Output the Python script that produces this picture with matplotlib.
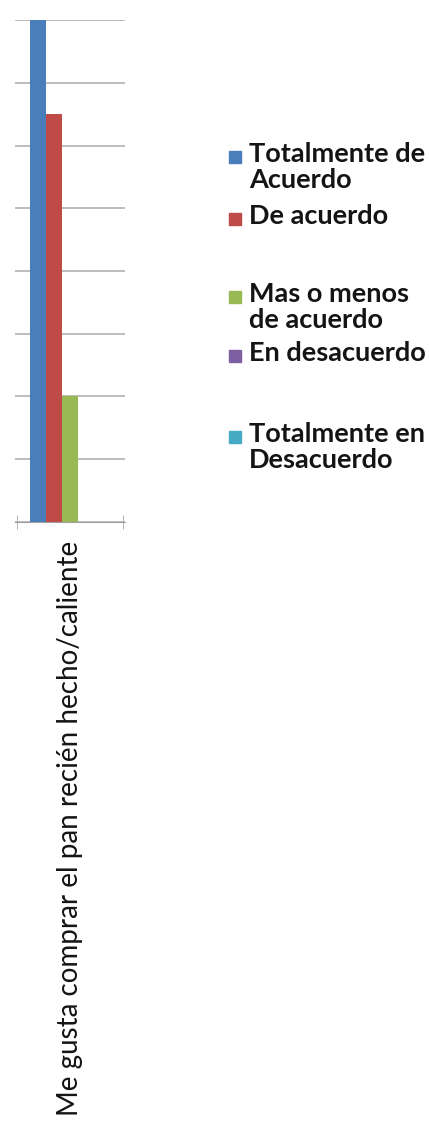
import matplotlib
matplotlib.use('Agg')
import matplotlib.pyplot as plt
import numpy as np
from matplotlib.patches import Rectangle

# respuestas para la unica pregunta
pregunta = 'Me gusta comprar el pan recién hecho/caliente'
opciones = ['Totalmente de\nAcuerdo', 'De acuerdo', 'Mas o menos\nde acuerdo',
            'En desacuerdo', 'Totalmente en\nDesacuerdo']
valores = [16, 13, 4, 0, 0]
colores = ['#4a7ebb', '#be4b48', '#98b954', '#7d60a0', '#46aac5']

fig = plt.figure(figsize=(4.29, 11.22), dpi=100)
ax = fig.add_axes([0.035, 0.535, 0.256, 0.447])

ancho = 0.145
x0 = -ancho * len(valores) / 2 + ancho / 2
for i in range(len(valores)):
    ax.bar(x0 + i * ancho, valores[i], width=ancho, color=colores[i], zorder=3)

ax.set_xlim(-0.5, 0.5)
ax.set_ylim(0, 16)
ax.set_yticks(np.arange(0, 17, 2))
ax.yaxis.grid(True, color='#b8b8b8', linewidth=1.3, zorder=0)
ax.tick_params(axis='y', length=0, labelleft=False)

ax.set_xticks([0])
ax.set_xticklabels([pregunta], rotation=90, fontsize=20,
                   family='Lato', va='top', color='#141414')
ax.tick_params(axis='x', which='major', length=0, pad=14)
ax.set_xticks([-0.48, 0.48], minor=True)
ax.tick_params(axis='x', which='minor', length=10, direction='inout',
               color='#a8a8a8')

for s in ['top', 'right', 'left']:
    ax.spines[s].set_visible(False)
ax.spines['bottom'].set_color('#a0a0a0')

# leyenda a mano, con el espaciado irregular de Excel
pos_y = [157, 219, 297, 356, 437]
W, H = 429.0, 1122.0
for i in range(len(opciones)):
    y = pos_y[i]
    fig.patches.append(Rectangle((229 / W, 1 - (y + 6) / H), 12 / W, 12 / H,
                                 transform=fig.transFigure, color=colores[i]))
    fig.text(249 / W, 1 - (y - 15) / H, opciones[i], family='Lato',
             weight='bold', fontsize=19.5, va='top', ha='left',
             linespacing=1.12, color='#141414')

plt.savefig('out.png', dpi=100)
